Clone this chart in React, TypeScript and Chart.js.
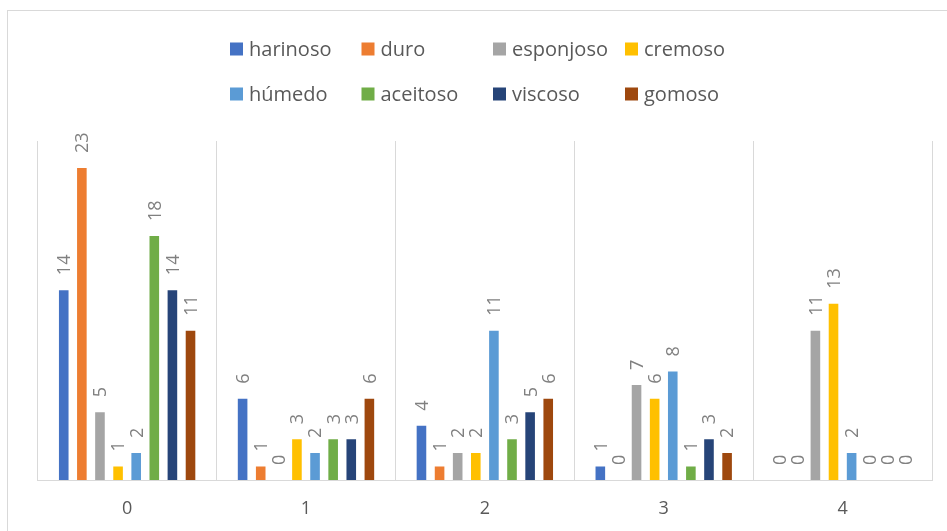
import React, { useEffect, useRef } from "react";
import { Chart, registerables } from "chart.js";

Chart.register(...registerables);

const categories = ["0", "1", "2", "3", "4"];
const seriesNames = ["harinoso", "duro", "esponjoso", "cremoso", "húmedo", "aceitoso", "viscoso", "gomoso"];
const harinoso = [14, 6, 4, 1, 0];
const duro = [23, 1, 1, 0, 0];
const esponjoso = [5, 0, 2, 7, 11];
const cremoso = [1, 3, 2, 6, 13];
const humedo = [2, 2, 11, 8, 2];
const aceitoso = [18, 3, 3, 1, 0];
const viscoso = [14, 3, 5, 3, 0];
const gomoso = [11, 6, 6, 2, 0];
const seriesValues = [harinoso, duro, esponjoso, cremoso, humedo, aceitoso, viscoso, gomoso];
const seriesColors = ["#4472C4", "#ED7D31", "#A5A5A5", "#FFC000", "#5B9BD5", "#70AD47", "#264478", "#9E480E"];

const FONT = "'Open Sans', 'Noto Sans', sans-serif";

const frameAndLegend = {
  id: "frameAndLegend",
  beforeDraw(chart: any) {
    const ctx = chart.ctx;
    ctx.save();
    ctx.fillStyle = "#ffffff";
    ctx.fillRect(0, 0, chart.width, chart.height);
    ctx.strokeStyle = "#d9d9d9";
    ctx.lineWidth = 1;
    ctx.strokeRect(7.5, 10.5, chart.width + 20, chart.height + 20);
    ctx.restore();
  },
  afterDraw(chart: any) {
    const ctx = chart.ctx;
    const colX = [230, 361.5, 493, 625];
    const rowY = [49, 94];
    ctx.save();
    ctx.font = `20px ${FONT}`;
    ctx.textBaseline = "middle";
    ctx.textAlign = "left";
    chart.data.datasets.forEach((ds: any, i: number) => {
      const x = colX[i % 4];
      const y = rowY[Math.floor(i / 4)];
      ctx.fillStyle = ds.backgroundColor;
      ctx.fillRect(x, y - 6.5, 13, 13);
      ctx.fillStyle = "#595959";
      ctx.fillText(ds.label, x + 19, y + 1);
    });
    ctx.restore();
  },
};

const barLabels = {
  id: "barLabels",
  afterDatasetsDraw(chart: any) {
    const ctx = chart.ctx;
    ctx.save();
    ctx.font = `18px ${FONT}`;
    ctx.fillStyle = "#808080";
    ctx.textAlign = "left";
    ctx.textBaseline = "alphabetic";
    chart.data.datasets.forEach((ds: any, i: number) => {
      const meta = chart.getDatasetMeta(i);
      meta.data.forEach((el: any, j: number) => {
        const v = ds.data[j];
        ctx.save();
        ctx.translate(el.x, el.y - 15);
        ctx.rotate(-Math.PI / 2);
        ctx.fillText(String(v), 0, 6.4);
        ctx.restore();
      });
    });
    ctx.restore();
  },
};

export default function App() {
  const canvasRef = useRef<HTMLCanvasElement | null>(null);

  useEffect(() => {
    if (!canvasRef.current) return;
    const chart = new Chart(canvasRef.current, {
      type: "bar",
      data: {
        labels: categories,
        datasets: seriesNames.map((name, i) => ({
          label: name,
          data: seriesValues[i],
          backgroundColor: seriesColors[i],
          borderWidth: 0,
          categoryPercentage: 0.81,
          barPercentage: 0.53,
        })),
      },
      options: {
        responsive: false,
        animation: false,
        layout: { padding: { left: 37.7, right: 15, top: 141, bottom: 0 } },
        plugins: {
          legend: { display: false },
          tooltip: { enabled: false },
        },
        scales: {
          x: {
            grid: { color: "#d9d9d9", drawTicks: false, offset: true, lineWidth: 1 },
            border: { color: "#d9d9d9", width: 1 },
            ticks: { color: "#595959", font: { family: FONT, size: 18 }, padding: 18 },
            afterFit: (s: any) => {
              s.height = 51;
            },
          },
          y: { display: false, min: 0, max: 25 },
        },
      },
      plugins: [frameAndLegend, barLabels],
    });
    return () => chart.destroy();
  }, []);

  return (
    <div style={{ position: "fixed", left: 0, top: 0, width: 947, height: 531, background: "#fff" }}>
      <canvas ref={canvasRef} width={947} height={531} style={{ display: "block" }} />
    </div>
  );
}
